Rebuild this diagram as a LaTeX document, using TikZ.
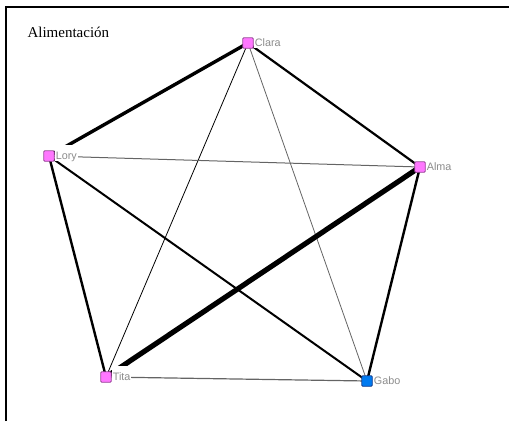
\documentclass[tikz,border=0pt]{standalone}
\usepackage{fontspec}
\setmainfont{Liberation Serif}
\newfontfamily\lblfont{Liberation Sans}
\usepackage{xcolor}
\usetikzlibrary{backgrounds}
\definecolor{rosa}{RGB}{255,119,255}
\definecolor{rosaline}{RGB}{150,70,150}
\definecolor{azul}{RGB}{0,122,240}
\definecolor{azulline}{RGB}{20,60,140}
\definecolor{lblgray}{RGB}{140,140,140}
\definecolor{edgray}{RGB}{100,100,100}
\tikzset{
  pk/.style={draw=rosaline,fill=rosa,line width=0.8pt,minimum size=10.5pt,inner sep=0pt,rounded corners=1pt},
  bl/.style={pk,draw=azulline,fill=azul},
  lbl/.style={anchor=base west,font=\lblfont\fontsize{10.8}{13}\selectfont,text=lblgray,fill=white,
    inner xsep=1pt,inner ysep=1pt,text height=13pt,text depth=1pt},
  ed/.style={line width=#1pt},
  wk/.style={line width=#1pt,edgray},
  frm/.style={line width=2pt}
}

\begin{document}
\begin{tikzpicture}[x=1pt,y=-1pt]
\useasboundingbox (0,0) rectangle (509,421);
\draw[frm] (6,421) |- (509,7);
\node[anchor=base west,font=\fontsize{15}{18}\selectfont] (titulo) at (24,37) {Alimentación};
% actores
\node[pk] (clara) at (248,43) {};
\node[pk] (lory) at (49,156) {};
\node[pk] (alma) at (420,167) {};
\node[pk] (tita) at (106,377) {};
\node[bl] (gabo) at (367,381) {};
\node[lbl] (claraL) at ([yshift=-3pt]clara.east) {Clara};
\node[lbl] (loryL) at ([yshift=-3pt]lory.east) {Lory};
\node[lbl] (almaL) at ([yshift=-3pt]alma.east) {Alma};
\node[lbl] (titaL) at ([yshift=-3pt]tita.east) {Tita};
\node[lbl] (gaboL) at ([yshift=-3pt]gabo.east) {Gabo};
% vinculos
\begin{scope}[on background layer]
\draw[ed=3.4] (clara.center) -- (lory.center);
\draw[ed=2.2] (clara.center) -- (alma.center);
\draw[ed=0.8] (clara.center) -- (tita.center);
\draw[wk=0.8] (clara.center) -- (gabo.center);
\draw[wk=1] (lory.center) -- (alma.center);
\draw[ed=2.4] (lory.center) -- (tita.center);
\draw[ed=2] (lory.center) -- (gabo.center);
\draw[ed=5.2] (alma.center) -- (tita.center);
\draw[ed=2.4] (alma.center) -- (gabo.center);
\draw[wk=1.2] (tita.center) -- (gabo.center);
\end{scope}
\end{tikzpicture}
\end{document}
